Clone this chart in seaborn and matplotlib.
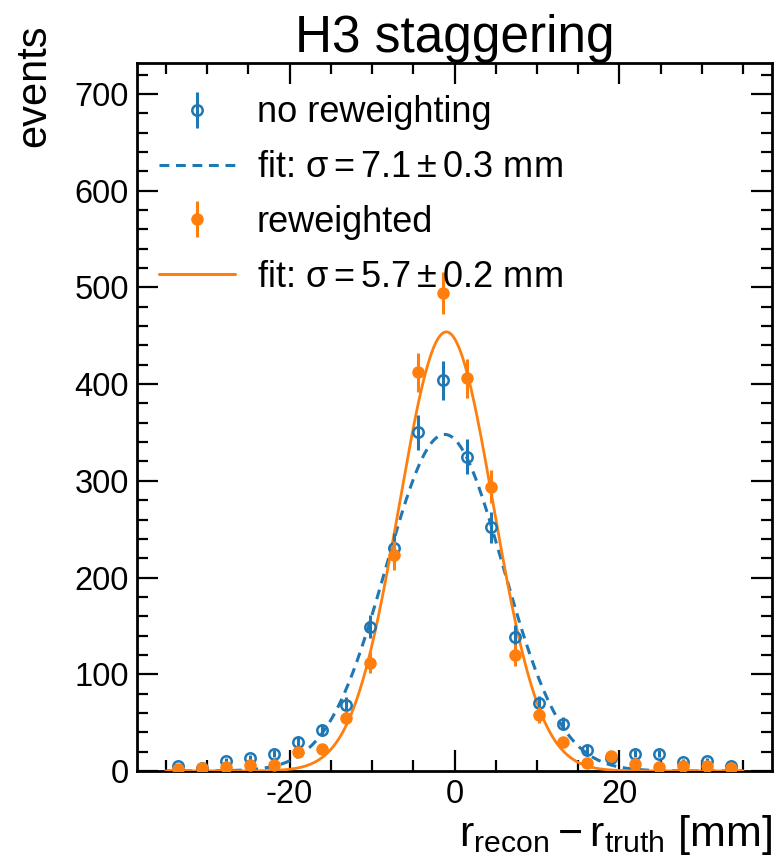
"""
Residual distribution for H3 staggering, with and without reweighting.
"""

import numpy as np
import pandas as pd
import matplotlib
matplotlib.use('Agg')
import matplotlib.pyplot as plt
from matplotlib.ticker import MultipleLocator
import seaborn as sns

# bin centres [mm] (24 bins from -35 to 35)
bin_centers = [-33.54, -30.63, -27.71, -24.79, -21.88, -18.96, -16.04, -13.13,
               -10.21, -7.29, -4.38, -1.46, 1.46, 4.38, 7.29, 10.21,
               13.13, 16.04, 18.96, 21.88, 24.79, 27.71, 30.63, 33.54]

# no reweighting
counts_nominal = [5, 3, 10, 13, 18, 30, 42, 68, 149, 231, 350, 404,
                  325, 252, 139, 70, 49, 22, 13, 18, 18, 9, 10, 5]
errors_nominal = [2, 2, 3, 4, 4, 5, 6, 8, 12, 15, 18, 20,
                  18, 16, 12, 8, 7, 5, 4, 4, 4, 3, 3, 2]

# reweighted
counts_reweighted = [2, 3, 4, 6, 6, 20, 23, 55, 112, 223, 412, 494,
                     406, 294, 120, 58, 30, 8, 15, 7, 4, 5, 5, 3]
errors_reweighted = [1, 2, 2, 2, 2, 4, 5, 7, 11, 15, 20, 22,
                     20, 17, 11, 8, 5, 3, 4, 3, 2, 2, 2, 2]

# gaussian fit results: amplitude, mean, sigma
fit_nominal = [348, -1.2, 7.1]
fit_reweighted = [454, -1.0, 5.7]
fit_labels = [r'fit: $\sigma = 7.1 \pm 0.3$ mm', r'fit: $\sigma = 5.7 \pm 0.2$ mm']

BLUE = '#1f77b4'
ORANGE = '#ff7f0e'


def gauss(x, amp, mu, sigma):
    return amp * np.exp(-0.5 * ((x - mu) / sigma) ** 2)


def main():
    sns.set_theme(style='ticks')
    plt.rcParams['font.family'] = ['Liberation Sans', 'DejaVu Sans']
    plt.rcParams['mathtext.fontset'] = 'custom'
    plt.rcParams['mathtext.rm'] = 'Liberation Sans'
    plt.rcParams['mathtext.it'] = 'Liberation Sans'
    plt.rcParams['mathtext.default'] = 'regular'
    plt.rcParams['axes.unicode_minus'] = False
    plt.rcParams['text.color'] = 'black'

    fig = plt.figure(figsize=(7.76, 8.68), dpi=100)
    ax = fig.add_axes([0.1766, 0.1118, 0.8183, 0.8156])

    # fit curves
    x_fit = np.linspace(-35, 35, 400)
    curves = pd.DataFrame({
        'x': np.concatenate([x_fit, x_fit]),
        'y': np.concatenate([gauss(x_fit, *fit_nominal), gauss(x_fit, *fit_reweighted)]),
        'fit': ['nominal'] * len(x_fit) + ['reweighted'] * len(x_fit),
    })
    sns.lineplot(data=curves[curves['fit'] == 'nominal'], x='x', y='y', ax=ax,
                 color=BLUE, lw=2.2, linestyle=(0, (3.2, 2.2)), zorder=3)
    sns.lineplot(data=curves[curves['fit'] == 'reweighted'], x='x', y='y', ax=ax,
                 color=ORANGE, lw=2.0, zorder=3)

    # data points
    h_nom = ax.errorbar(bin_centers, counts_nominal, yerr=errors_nominal, fmt='o',
                        color=BLUE, mfc='none', mew=1.8, ms=7.5, elinewidth=2.2,
                        capsize=0, zorder=4)
    h_rw = ax.errorbar(bin_centers, counts_reweighted, yerr=errors_reweighted, fmt='o',
                       color=ORANGE, ms=8, elinewidth=2.2, capsize=0, zorder=5)

    ax.set_xlim(-38.5, 38.5)
    ax.set_ylim(0, 732)

    # legend in the original order
    fit_nom_line = plt.Line2D([], [], color=BLUE, lw=2.2, linestyle=(0, (3.2, 2.2)))
    fit_rw_line = plt.Line2D([], [], color=ORANGE, lw=2.2)
    leg = ax.legend([h_nom, fit_nom_line, h_rw, fit_rw_line],
                    ['no reweighting', fit_labels[0], 'reweighted', fit_labels[1]],
                    loc='upper left', frameon=False, fontsize=26, handlelength=2.1,
                    handletextpad=0.62, labelspacing=0.55, borderaxespad=0.2,
                    bbox_to_anchor=(0.0, 0.985))
    for txt in leg.get_texts():
        txt.set_color('black')

    # HEP style ticks
    ax.xaxis.set_major_locator(MultipleLocator(20))
    ax.xaxis.set_minor_locator(MultipleLocator(5))
    ax.yaxis.set_major_locator(MultipleLocator(100))
    ax.yaxis.set_minor_locator(MultipleLocator(20))
    ax.tick_params(which='both', direction='in', top=True, right=True, width=1.6,
                   labelsize=23.5, color='black', labelcolor='black')
    ax.tick_params(which='major', length=15, pad=6)
    ax.tick_params(which='minor', length=8)
    for spine in ax.spines.values():
        spine.set_linewidth(2.0)
        spine.set_color('black')

    ax.set_title('H3 staggering', fontsize=37, pad=0, color='black')
    ax.set_xlabel(r'$r_{recon} - r_{truth}$ [mm]', fontsize=31, loc='right', color='black')
    ax.set_ylabel('events', fontsize=30, loc='top', color='black')
    ax.yaxis.set_label_coords(-0.13, 1.055)
    ax.xaxis.set_label_coords(1.0, -0.06)

    fig.savefig('out.png', dpi=100)
    plt.close(fig)


if __name__ == '__main__':
    main()
